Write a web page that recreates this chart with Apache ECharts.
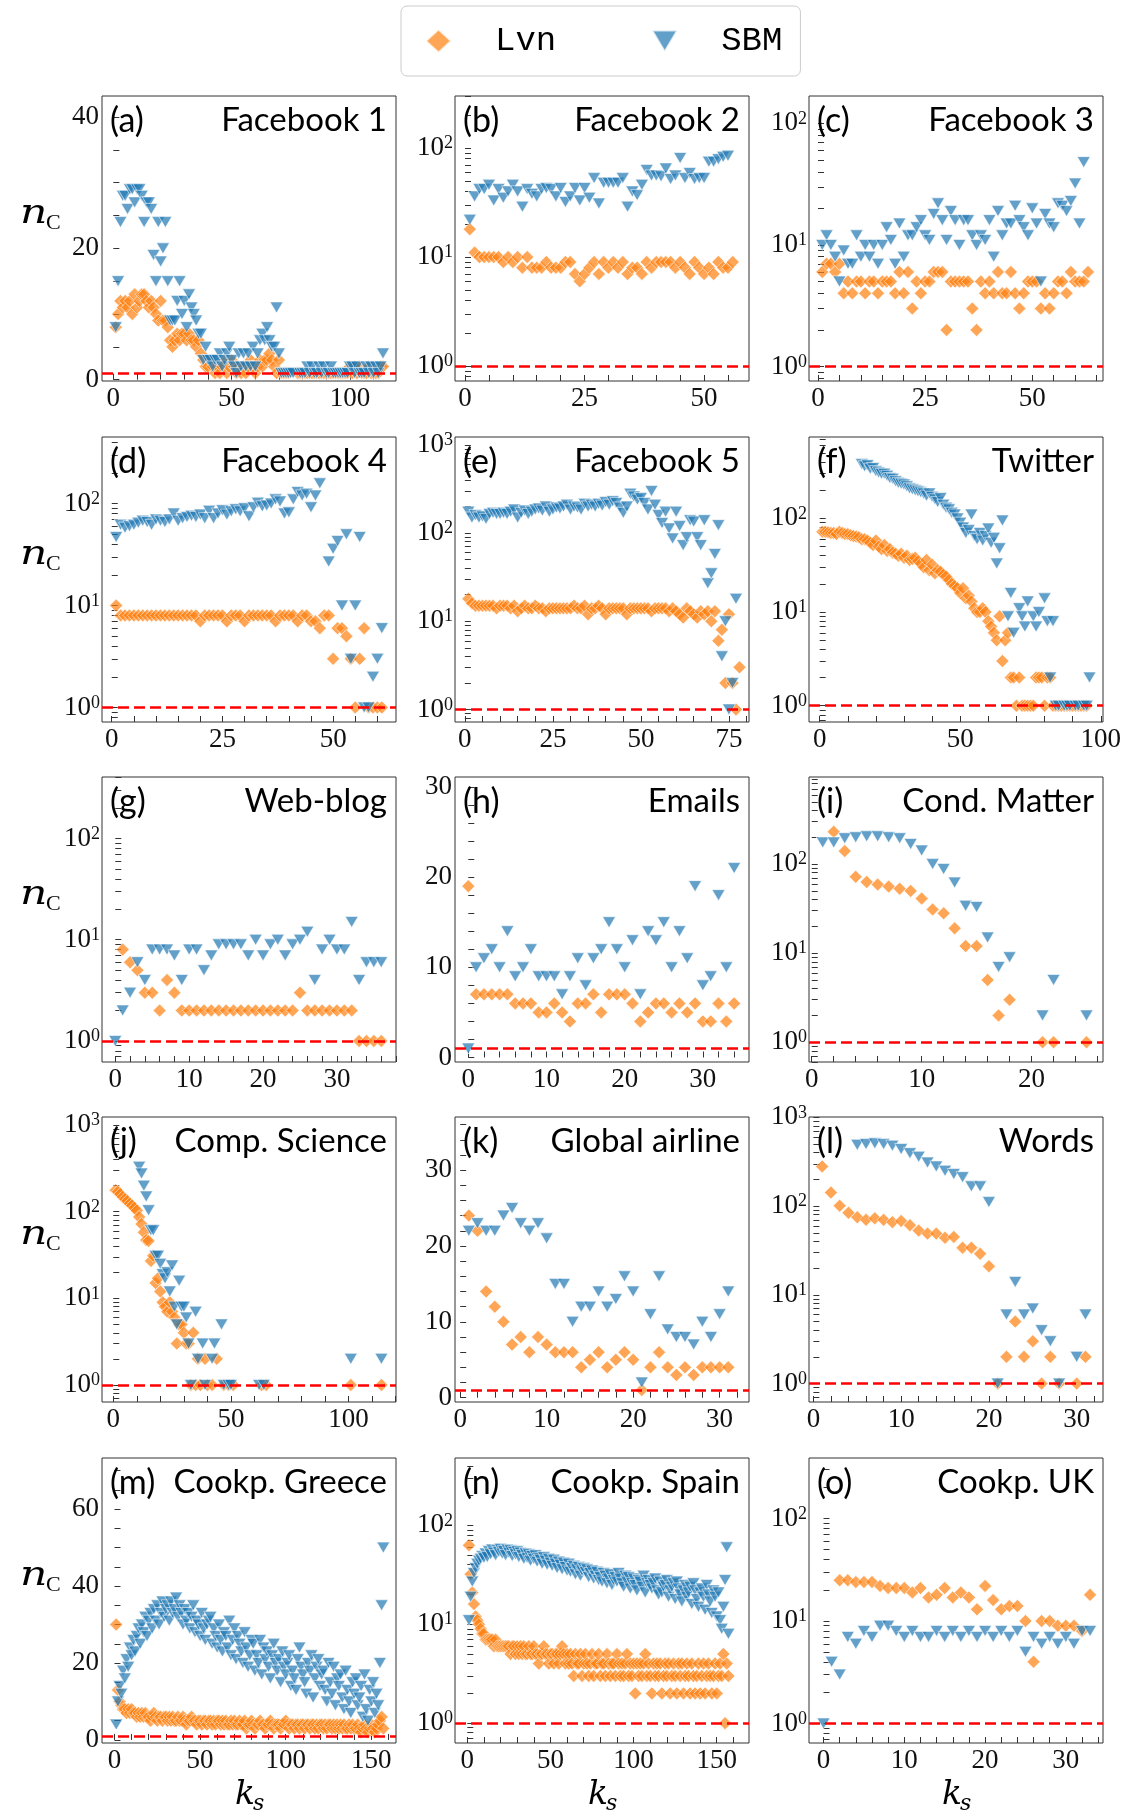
<!DOCTYPE html>
<html>
<head>
<meta charset="utf-8">
<script src="https://cdn.jsdelivr.net/npm/echarts@6/dist/echarts.min.js"></script>
<style>
  html, body { margin: 0; padding: 0; background: #fff; }
  #chart { width: 1128px; height: 1814px; }
</style>
</head>
<body>
<div id="chart"></div>
<script>
// ---- n_C versus k_s for every network (index = k_s, starting at the given offset) ----
const fb1Lvn = [8,10,12,11,12,11,12,10,13,11, 12,13,13,12,11,12,11,10,9,12, 9,9,8,6,5,6,7,6,7,7,
  6,7,6,6,5,6,4,3,2,2, 3,2,1,2,1,2,3,1,2,3, 2,1,2,1,2,1,2,3,2,1, 2,3,2,3,3,4,3,2,1,3,
  1,1,1,1,null,null,null,1,1,1, 1,1,1,1,1,1,1,1,1,1, 1,1,1,1,1,1,1,1,1,2, 1,2,1,2,1,1,1,2,1,1, 1,1,2,2];
const fb1Sbm = [8,15,24,28,28,26,29,29,27,29, 29,28,24,27,27,26,19,15,24,18, 20,24,15,9,9,9,12,15,10,12,
  8,13,11,10,9,7,7,3,5,3, 3,2,3,3,4,2,3,4,5,3, 2,1,4,2,4,2,4,2,5,2, 4,6,7,6,8,6,5,5,11,4,
  1,1,1,1,1,1,null,null,1,1, 1,2,1,2,1,1,2,1,2,1, 1,2,1,1,1,1,1,1,1,2, 2,1,2,1,1,1,2,1,2,1, 2,1,2,4];

const fb2Lvn = [18,11,10,10,10,10,10,9,10,9, 10,8,10,8,8,8,9,8,8,8, 9,9,7,6,7,8,9,7,9,8,
  9,8,9,7,8,8,7,9,8,9, 9,9,9,8,9,8,7,9,8,7, 8,7,9,8,8,9];
const fb2Sbm = [22,36,42,42,46,33,42,35,40,46, 40,29,42,38,36,42,43,42,36,43, 32,36,43,33,43,35,53,31,48,48,
  48,48,53,29,40,37,46,63,56,56, 55,65,52,56,81,53,59,52,53,53, 75,75,79,83,85];

const fb3Lvn = [6,7,7,6,7,4,5,4,5,5, 4,5,5,4,5,5,5,4,6,4, 6,3,5,4,5,5,6,6,6,2,
  5,5,5,5,5,3,2,5,4,5, 4,6,4,4,6,4,3,4,5,5, 5,3,4,3,4,5,5,4,6,5, 5,5,6];
const fb3Sbm = [10,12,10,8,5,9,7,7,12,8, 10,8,10,7,10,14,11,7,15,8, 12,12,14,16,12,11,18,22,16,11,
  19,16,10,16,16,12,10,12,11,16, 8,19,12,15,15,21,16,14,12,20, 15,5,18,15,14,22,21,19,23,32, 15,48];

const fb4Lvn = [10,8,8,8,8,8,8,8,8,8, 8,8,8,8,8,8,8,8,8,7, 8,8,8,8,8,7,8,8,8,7,
  8,8,8,8,8,8,7,8,8,8, 8,7,8,8,7,7,6,8,8,3, 6,6,5,3,1,3,6,1,1,1, 1];
const fb4Sbm = [47,62,58,60,62,65,68,66,62,70, 68,66,70,80,68,72,74,76,74,78, 72,85,72,80,86,78,84,88,84,90,
  75,92,102,94,96,100,110,105,80,82, 110,130,120,125,92,120,158,null,27,36, 43,10,50,3,10,47,1,1,2,3, 6];

const fb5Lvn = [18,16,15,15,15,15,15,15,14,15, 15,15,14,15,13,14,15,14,14,15, 14,14,13,14,14,14,14,14,14,14,
  15,14,14,15,12,14,14,15,14,12, 14,14,14,14,14,12,14,14,14,14, 14,14,13,14,14,14,14,13,14,13,
  12,11,14,13,12,11,13,12,13,10, 13,6,8,2,12,2,1,3];
const fb5Sbm = [175,150,160,150,155,145,165,170,165,165, 170,165,175,185,150,170,180,165,175,185,
  190,180,200,175,185,195,190,200,210,185, 200,195,185,215,200,210,200,215,205,225,
  210,230,220,195,170,200,280,260,240,250, 220,185,300,210,160,130,175,113,87,175,
  120,73,90,140,135,90,73,140,27,35, 58,123,4,10,1,2,18];

const twLvn = [72,72,71,70,70,68,72,70,68,68, 66,65,64,63,60,60,58,55,52,58, 50,47,52,45,47,43,42,40,42,38,
  40,36,37,38,35,33,30,36,28,32, 26,28,27,25,24,22,20,19,18,16, 18,14,15,13,11,10,10,11,10,8,
  7,6,5,9,3,5,6,2,2,1, 2,1,1,1,1,1,2,2,2,1, 2,2,1,1,1,1,1,1,1,1, 1,1,1,1,1];
const twSbm = [380,360,370,340,345,320,310,300,300,285, 270,265,250,240,235,230,220,210,205,200,
  195,190,185,175,185,170,160,150,165,140, 130,125,115,110,100,90,80,70,75,110,
  65,60,70,58,65,78,55,62,33,48, 95,null,9,16,6,null,11,9,7,13,
  null,9,7,10,null,14,8,2,8,1, 1,null,1,1,1,null,1,1,null,1, 1,2];

const wbLvn = [8,6,5,3,3,2,4,3,2,2, 2,2,2,2,2,2,2,2,2,2, 2,2,2,2,3,2,2,2,2,2, 2,2,1,1,1,1];
const wbSbm = [1,2,3,6,4,8,8,8,7,4, 8,8,5,7,9,9,9,9,7,10, 7,9,10,7,9,10,12,4,8,10, 8,8,15,4,6,6,6];

const emLvn = [19,7,7,7,7,7,6,6,6,5, 5,6,5,4,6,6,7,5,7,7, 7,6,4,5,6,6,5,6,5,6, 4,4,6,4,6];
const emSbm = [1,10,11,12,10,14,9,10,12,9, 9,9,7,9,11,8,11,12,15,12, 10,13,7,14,13,15,10,14,11,19, 8,9,18,10,21];

const cmLvn = [230,140,72,63,59,56,53,50,41,31, 28,19,12,12,5,2,3,null,null,1, 1,null,null,1];
const cmSbm = [175,175,195,200,205,205,200,195,168,142, 100,88,62,34,33,15,7,9,null,null, 2,5,null,null,2];

const csLvn = [[1,177],[2,170],[3,160],[4,148],[5,140],[6,133],[7,124],[8,118],[9,111],[10,103],
  [11,87],[12,72],[13,58],[14,47],[15,46],[16,27],[17,31],[18,15],[19,17],[20,12],
  [21,9],[22,8],[23,7],[24,9],[25,7],[26,6],[27,3],[28,5],[29,5],[30,4],[31,3],[32,3],
  [33,1],[34,4],[35,1],[36,2],[37,1],[39,2],[40,1],[42,1],[44,2],[47,1],[49,1],[51,1],
  [63,1],[65,1],[101,1],[114,1]];
const csSbm = [[11,330],[12,276],[13,200],[14,150],[15,104],[16,61],[17,61],[18,31],[19,31],[20,25],
  [21,19],[22,17],[23,20],[24,12],[25,24],[26,8],[27,5],[28,16],[29,8],[30,8],[31,6],[32,3],
  [33,1],[35,7],[36,2],[38,3],[39,1],[42,2],[43,3],[46,5],[47,1],[49,1],[50,1],[62,1],[64,1],
  [101,2],[114,2]];

const alLvn = [24,22,14,12,10,7,8,6,8,7, 6,6,6,4,5,6,4,5,6,5, 1,4,6,4,3,4,3,4,4,4, 4];
const alSbm = [22,23,22,22,24,25,23,22,23,21, 15,15,10,12,12,14,12,13,16,14, 2,11,16,9,8,8,7,10,8,11, 14];

const wdLvn = [280,142,101,84,75,70,73,70,66,68, 61,53,49,49,44,45,34,34,29,21, 1,2,5,2,3,1,2,1,null,1, 2];
const wdSbm = [490,500,510,500,480,440,395,360,310,280, 250,230,212,167,167,111, 1,6,14,6,7,4,3,1,null,2,6];

const grLvn = [30,13,10,9,8,8,7,8,7,8, 7,7,6,7,6,7,6,7,6,6, 5,6,7,6,5,6,6,5,6,6, 5,6,5,6,5,5,6,5,5,6,
  5,4,5,5,6,5,5,4,5,5, 4,5,5,4,5,5,4,5,4,5, 5,4,5,4,5,4,4,5,4,5, 4,4,5,4,4,5,3,4,4,5,
  4,3,4,4,5,4,4,3,4,4, 5,4,3,4,4,4,3,4,4,5, 4,3,4,4,3,4,4,3,4,4, 3,4,4,3,4,4,3,4,3,4,
  4,3,4,3,4,4,3,4,3,4, 3,4,3,4,3,3,4,3,4,3, 3,4,3,2,3,4,3,2,3,4, 3,2,3,4,5,6,3];
const grSbm = [4,10,14,12,18,16,21,19,24,22, 26,23,27,29,25,30,28,32,27,31, 33,29,34,31,35,30,33,36,32,34,
  35,31,36,33,34,37,32,35,33,30, 34,31,33,29,32,35,28,31,30,27, 33,29,26,30,31,32,25,29,27,24,
  30,26,23,28,27,24,31,22,26,29, 21,27,25,23,20,28,24,19,22,26, 25,18,22,20,26,17,24,21,23,19,
  16,22,25,20,18,21,15,23,19,17, 20,22,14,18,16,13,21,24,19,17, 15,12,20,18,22,11,16,19,21,14,
  17,18,13,10,20,15,12,19,9,16, 14,17,11,8,18,13,10,7,15,12, 16,9,11,14,6,17,8,5,13,10,
  15,7,12,9,20,35,50];

const spLvn = [63,32,21,16,12,11,10,9,8,8, 7,7,7,7,7,6,7,6,6,6, 6,6,6,6,6,5,6,6,5,6, 5,6,5,6,5,5,6,5,5,6,
  5,5,4,5,5,6,5,5,4,5, 5,4,5,5,4,5,6,5,4,5, 4,5,4,3,5,4,4,5,3,4, 5,4,3,4,5,3,4,4,5,3,
  4,4,3,5,4,3,4,4,3,5, 4,3,4,3,4,5,3,4,3,4, 2,4,3,4,3,4,5,3,4,3, 2,4,3,4,3,4,2,3,4,3,
  4,2,3,4,3,2,4,3,4,2, 3,4,3,2,4,3,2,3,4,2, 3,4,2,3,4,3,2,3,4,2, 3,4,3,5,1,4,3];
const spSbm = [11,19,27,33,37,41,44,46,49,47, 52,48,55,51,57,53,50,56,54,58, 52,55,50,57,53,56,49,54,51,55,
  48,53,50,46,52,47,51,44,49,46, 50,43,47,45,41,48,44,40,46,42, 39,45,41,37,43,40,36,42,38,35,
  41,34,37,39,32,36,38,31,35,37, 34,36,30,33,35,29,31,34,28,30, 27,33,31,26,29,32,25,28,30,27,
  33,29,26,24,31,27,30,23,26,29, 25,22,28,27,24,31,21,26,28,25, 23,26,29,22,20,27,21,24,25,28,
  19,22,24,26,18,27,23,20,17,22, 25,19,21,24,16,26,22,18,15,21, 23,19,14,25,20,17,13,22,19,12,
  21,11,9,15,28,60,8];

const ukLvn = [25,25,24,24,24,22,21,21,21,19, 21,17,18,21,17,19,17,13,22,16, 13,14,14,10,4,10,10,9,9,9, 8,18];
const ukSbm = [1,4,3,7,6,8,7,9,9,8, 7,8,7,7,8,7,8,7,8,7, 8,7,8,7,8,5,7,6,7,6, 7,6,8,8];

// ---- panel captions and labelled tick values ----
const panelTags  = ['(a)','(b)','(c)','(d)','(e)','(f)','(g)','(h)','(i)','(j)','(k)','(l)','(m)','(n)','(o)'];
const panelNames = ['Facebook 1','Facebook 2','Facebook 3','Facebook 4','Facebook 5','Twitter',
  'Web-blog','Emails','Cond. Matter','Comp. Science','Global airline','Words',
  'Cookp. Greece','Cookp. Spain','Cookp. UK'];
const xLabelSets = [[0,50,100],[0,25,50],[0,25,50],[0,25,50],[0,25,50,75],[0,50,100],
  [0,10,20,30],[0,10,20,30],[0,10,20],[0,50,100],[0,10,20,30],[0,10,20,30],
  [0,50,100,150],[0,50,100,150],[0,10,20,30]];
const xMinorSteps = [10,5,5,5,5,10, 2,2,2,10,2,2, 10,10,2];
const yLabelSets = [[0,20,40],[1,10,100],[1,10,100],[1,10,100],[1,10,100,1000],[1,10,100],
  [1,10,100],[0,10,20,30],[1,10,100],[1,10,100,1000],[0,10,20,30],[1,10,100,1000],
  [0,20,40,60],[1,10,100],[1,10,100]];
const yMinorSteps = [5,0,0,0,0,0, 0,2,0,0,2,0, 5,0,0];   // 0 → logarithmic axis
const xRanges = [[-4.8,119.5],[-2.1,59.4],[-2.1,66.5],[-2.2,64.2],[-2.8,80.7],[-3.8,100.8],
  [-1.8,38],[-1.7,35.9],[-0.25,26.5],[-4.8,120.2],[-0.6,33.4],[-0.5,33],
  [-7.3,164.4],[-7.4,169.4],[-1.8,34.6]];
const yRanges = [[-0.2,43.2],[0.73,300],[0.76,168],[0.72,450],[0.72,1230],[0.67,740],
  [0.62,405],[-0.5,31.1],[0.6,950],[0.635,1240],[-0.57,37],[0.62,1010],
  [-0.8,73.3],[0.63,480],[0.645,390]];

const seq = (start, vals) => vals.map((v, i) => (v == null ? null : [start + i, v])).filter(Boolean);
const lvnData = [seq(1,fb1Lvn), seq(1,fb2Lvn), seq(1,fb3Lvn), seq(1,fb4Lvn), seq(1,fb5Lvn), seq(1,twLvn),
  seq(1,wbLvn), seq(0,emLvn), seq(2,cmLvn), csLvn, seq(1,alLvn), seq(1,wdLvn),
  seq(1,grLvn), seq(1,spLvn), seq(2,ukLvn)];
const sbmData = [seq(1,fb1Sbm), seq(1,fb2Sbm), seq(1,fb3Sbm), seq(1,fb4Sbm), seq(1,fb5Sbm), seq(15,twSbm),
  seq(0,wbSbm), seq(0,emSbm), seq(1,cmSbm), csSbm, seq(1,alSbm), seq(5,wdSbm),
  seq(1,grSbm), seq(1,spSbm), seq(0,ukSbm)];

// ---- layout ----
const colLeft = [102, 455, 809];
const rowTop = [96, 437, 777, 1117, 1458];
const PW = 294, PH = 285;
const serif = '"Liberation Serif", "DejaVu Serif", serif';
const sans = 'Lato, "Liberation Sans", sans-serif';

function linTicks(lo, hi, step) {
  const out = [];
  for (let v = Math.ceil(lo / step) * step; v <= hi + 1e-9; v += step) out.push(+v.toFixed(6));
  return out;
}
function logTicks(lo, hi) {
  const out = [];
  for (let e = -1; e <= 4; e++) for (let m = 1; m < 10; m++) {
    const v = +(m * Math.pow(10, e)).toPrecision(4);
    if (v >= lo && v <= hi) out.push(v);
  }
  return out;
}
const labelRich = {
  b: { fontFamily: serif, fontSize: 27, lineHeight: 27, color: '#111' },
  e: { fontFamily: serif, fontSize: 18, lineHeight: 13, verticalAlign: 'top', color: '#111' }
};

const grids = [], xAxes = [], yAxes = [], series = [], titles = [], graphics = [];
for (let i = 0; i < 15; i++) {
  const r = Math.floor(i / 3), c = i % 3;
  const left = colLeft[c], top = rowTop[r];
  grids.push({ left, top, width: PW, height: PH, show: true, borderColor: '#333', borderWidth: 1,
    backgroundColor: 'transparent', containLabel: false });
  const [x0, x1] = xRanges[i];
  xAxes.push({
    type: 'value', gridIndex: i, min: x0, max: x1,
    axisLine: { show: false }, splitLine: { show: false },
    axisTick: { show: true, inside: true, length: 6, customValues: linTicks(x0, x1, xMinorSteps[i]),
      lineStyle: { color: '#333', width: 1 } },
    axisLabel: { customValues: xLabelSets[i], margin: 4, fontFamily: serif, fontSize: 27, color: '#111' }
  });
  const [y0, y1] = yRanges[i];
  const isLog = yMinorSteps[i] === 0;
  yAxes.push(isLog ? {
    type: 'log', logBase: 10, gridIndex: i, min: y0, max: y1,
    axisLine: { show: false }, splitLine: { show: false },
    axisTick: { show: true, inside: true, length: 6, customValues: logTicks(y0, y1),
      lineStyle: { color: '#333', width: 1 } },
    axisLabel: { customValues: yLabelSets[i], margin: 2,
      formatter: v => '{b|10}{e|' + Math.round(Math.log10(v)) + '}', rich: labelRich }
  } : {
    type: 'value', gridIndex: i, min: y0, max: y1,
    axisLine: { show: false }, splitLine: { show: false },
    axisTick: { show: true, inside: true, length: 6, customValues: linTicks(y0, y1, yMinorSteps[i]),
      lineStyle: { color: '#333', width: 1 } },
    axisLabel: { customValues: yLabelSets[i], margin: 3, fontFamily: serif, fontSize: 27, color: '#111' }
  });
  series.push({
    type: 'scatter', name: 'Lvn', xAxisIndex: i, yAxisIndex: i, data: lvnData[i],
    symbol: 'diamond', symbolSize: 13, z: 3,
    itemStyle: { color: '#ff7f0e', opacity: 0.7, borderColor: '#ffffff', borderWidth: 0.8 },
    markLine: { silent: true, symbol: 'none', animation: false, label: { show: false },
      lineStyle: { color: '#ff0000', type: [11, 5], width: 2.6 }, data: [{ yAxis: 1 }] }
  });
  series.push({
    type: 'scatter', name: 'SBM', xAxisIndex: i, yAxisIndex: i, data: sbmData[i],
    symbol: 'triangle', symbolRotate: 180, symbolSize: [13, 11], z: 4,
    itemStyle: { color: '#1f77b4', opacity: 0.7, borderColor: '#ffffff', borderWidth: 0.8 }
  });
  titles.push({ text: panelTags[i], left: left + 8, top: top + 8, padding: 0,
    textStyle: { fontFamily: sans, fontSize: 34, fontWeight: 'normal', color: '#000' } });
  titles.push({ text: panelNames[i], right: 1128 - (left + PW) + 9, top: top + 8, padding: 0,
    textStyle: { fontFamily: sans, fontSize: 33, fontWeight: 'normal', color: '#000' } });
  if (c === 0) {
    // italic n with an upright subscript C
    graphics.push({ type: 'text', x: 20, y: top + 118, scaleX: 1.25, z: 10,
      style: { text: 'n', font: 'italic 34px "DejaVu Serif"', fill: '#000', textVerticalAlign: 'middle' } });
    graphics.push({ type: 'text', x: 46, y: top + 127, z: 10,
      style: { text: 'C', font: '22px "Liberation Serif"', fill: '#000', textVerticalAlign: 'middle' } });
  }
  if (r === 4) {
    const cx = left + PW / 2;
    graphics.push({ type: 'text', x: cx - 14, y: 1795, z: 10,
      style: { text: 'k', font: 'italic 33px "DejaVu Serif"', fill: '#000', textVerticalAlign: 'middle' } });
    graphics.push({ type: 'text', x: cx + 4, y: 1804, z: 10,
      style: { text: 's', font: 'italic 22px "DejaVu Serif"', fill: '#000', textVerticalAlign: 'middle' } });
  }
}

const chart = echarts.init(document.getElementById('chart'), null, { renderer: 'canvas' });
chart.setOption({
  animation: false,
  backgroundColor: '#ffffff',
  title: titles,
  legend: {
    left: 401, top: 6, orient: 'horizontal',
    data: [{ name: 'Lvn', icon: 'diamond' }, { name: 'SBM', icon: 'path://M0,0L13,0L6.5,11Z' }],
    symbolRotate: 0,
    itemWidth: 25, itemHeight: 23, itemGap: 95,
    padding: [18, 18, 18, 24],
    borderColor: '#cccccc', borderWidth: 1, borderRadius: 6,
    textStyle: { fontFamily: '"Liberation Mono", "DejaVu Sans Mono", monospace', fontSize: 34,
      color: '#000', padding: [0, 0, 0, 39] }
  },
  grid: grids,
  xAxis: xAxes,
  yAxis: yAxes,
  series: series,
  graphic: graphics
});
</script>
</body>
</html>
